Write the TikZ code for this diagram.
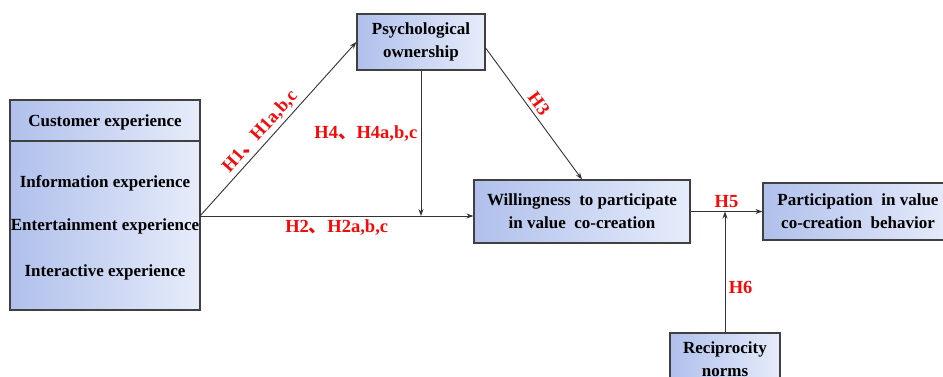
\documentclass[tikz,border=0pt]{standalone}
\usepackage{fontspec}
\setmainfont{Liberation Serif}[BoldFont={Liberation Serif Bold}]
\newfontfamily\cjk{Noto Sans CJK SC}
\usetikzlibrary{arrows.meta, positioning, calc}
\definecolor{boxleft}{RGB}{176,192,236}
\definecolor{boxright}{RGB}{230,236,250}
\definecolor{hypred}{RGB}{245,10,10}

\begin{document}
\begin{tikzpicture}[x=1pt,y=1pt,
  every node/.style={font=\rmfamily\fontsize{17}{23}\selectfont\bfseries},
  box/.style={draw=black!75, line width=1.2pt, left color=boxleft, right color=boxright, align=center},
  hyp/.style={text=hypred, font=\rmfamily\fontsize{18.5}{20}\selectfont\bfseries},
  arr/.style={-{Stealth[length=7pt,width=5pt]}, line width=0.9pt, black!80}]
  \useasboundingbox (0,0) rectangle (943,376);
  % customer experience box
  \node[box, minimum width=190pt, minimum height=210pt] (cust) at (105,171) {};
  \node (custhead) at (105,254) {Customer experience};
  \draw[black!75, line width=1.2pt] (cust.west |- 0,235) -- (cust.east |- 0,235);
  \node (custinfo) at (105,193) {Information experience};
  \node (custent) at (105,150) {Entertainment experience};
  \node (custint) at (105,104) {Interactive experience};
  \coordinate (cout) at (200,160);
  % other constructs
  \node[box, minimum width=128pt, minimum height=56pt] (psych) at (421,334) {Psychological\\ownership};
  \node[box, minimum width=216pt, minimum height=63pt] (will) at (582,164.5) {Willingness\ \ to participate\\in value\ \ co-creation};
  \node[box, minimum width=190pt, minimum height=57pt] (part) at (858,164.5) {Participation\ \ in value\\co-creation\ \ behavior};
  \node[box, minimum width=110pt, minimum height=52pt] (recip) at (725,17) {Reciprocity\\norms};
  % paths
  \draw[arr] (cout) -- (psych.west) node[hyp, pos=0.44, sloped, above] {H1{\cjk 、}H1a,b,c};
  \draw[arr] (cout) -- (cout -| will.west) node[hyp, midway, below] {H2{\cjk 、}H2a,b,c};
  \draw[arr] (psych.south) -- (psych.south |- cout) node[hyp, pos=0.43, left] {H4{\cjk 、}H4a,b,c};
  \draw[arr] ([yshift=-6pt]psych.east) -- (will.north) node[hyp, pos=0.47, sloped, above] {H3};
  \draw[arr] (will.east) -- (part.west) node[hyp, midway, above] {H5};
  \draw[arr] (recip.north) -- (recip.north |- will.east) node[hyp, pos=0.37, right] {H6};
\end{tikzpicture}
\end{document}
